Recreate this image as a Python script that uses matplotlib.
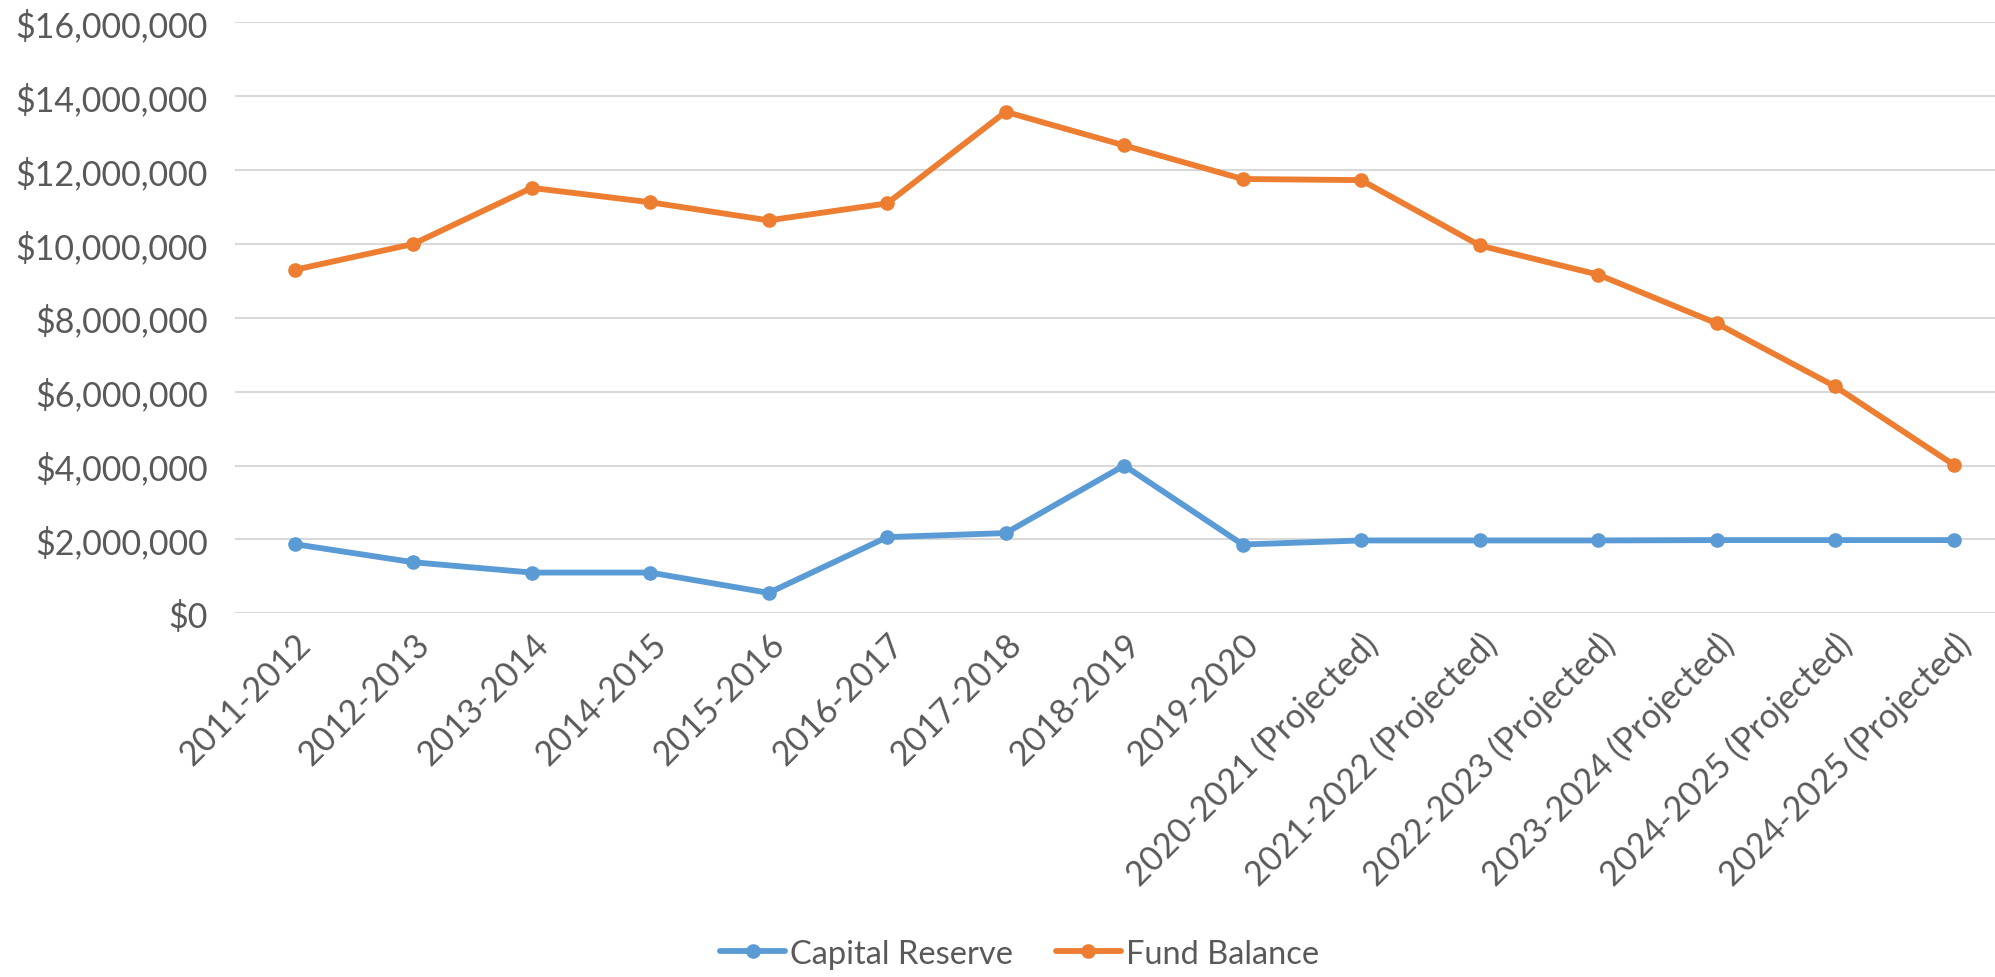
import matplotlib.pyplot as plt
from matplotlib.ticker import FuncFormatter

# ── Data ──────────────────────────────────────────────────────────────────────
years = ['2011-2012', '2012-2013', '2013-2014', '2014-2015', '2015-2016',
         '2016-2017', '2017-2018', '2018-2019', '2019-2020',
         '2020-2021 (Projected)', '2021-2022 (Projected)', '2022-2023 (Projected)',
         '2023-2024 (Projected)', '2024-2025 (Projected)', '2024-2025 (Projected)']

capital_reserve = [1870000, 1380000, 1100000, 1100000, 550000,
                   2060000, 2170000, 4000000, 1860000,
                   1970000, 1970000, 1970000, 1980000, 1980000, 1980000]

fund_balance = [9300000, 10000000, 11520000, 11130000, 10640000,
                11100000, 13580000, 12670000, 11760000,
                11730000, 9960000, 9170000, 7850000, 6140000, 4020000]

# ── Style ─────────────────────────────────────────────────────────────────────
plt.rcParams['font.family'] = ['Lato', 'DejaVu Sans']
TEXT = '#595959'
BLUE = '#5B9BD5'
ORANGE = '#ED7D31'

fig = plt.figure(figsize=(19.95, 9.78), dpi=100)
ax = fig.add_axes([0.118, 0.372, 0.891, 0.604])

x = range(len(years))
ax.plot(x, capital_reserve, color=BLUE, lw=4.2, marker='o', ms=9.5,
        label='Capital Reserve', solid_capstyle='round')
ax.plot(x, fund_balance, color=ORANGE, lw=4.2, marker='o', ms=9.5,
        label='Fund Balance', solid_capstyle='round')

ax.set_xlim(-0.5, len(years) - 0.5)
ax.set_ylim(0, 16000000)
ax.set_yticks(range(0, 16000001, 2000000))
ax.yaxis.set_major_formatter(FuncFormatter(lambda v, p: f'${v:,.0f}'))
ax.grid(axis='y', color='#D9D9D9', lw=1.5)
ax.set_axisbelow(True)

for s in ax.spines.values():
    s.set_visible(False)
ax.tick_params(length=0, colors=TEXT, labelsize=24.5)
ax.tick_params(axis='y', pad=20)
ax.tick_params(axis='x', pad=10)

ax.set_xticks(list(x))
ax.set_xticklabels(years, rotation=45, ha='right', rotation_mode='anchor')

leg = fig.legend(loc='center', bbox_to_anchor=(0.511, 0.024), ncol=2,
                 frameon=False, fontsize=23.5, handlelength=2.0,
                 columnspacing=1.3, handletextpad=0.15)
for t in leg.get_texts():
    t.set_color(TEXT)

plt.savefig('out.png', dpi=100)
